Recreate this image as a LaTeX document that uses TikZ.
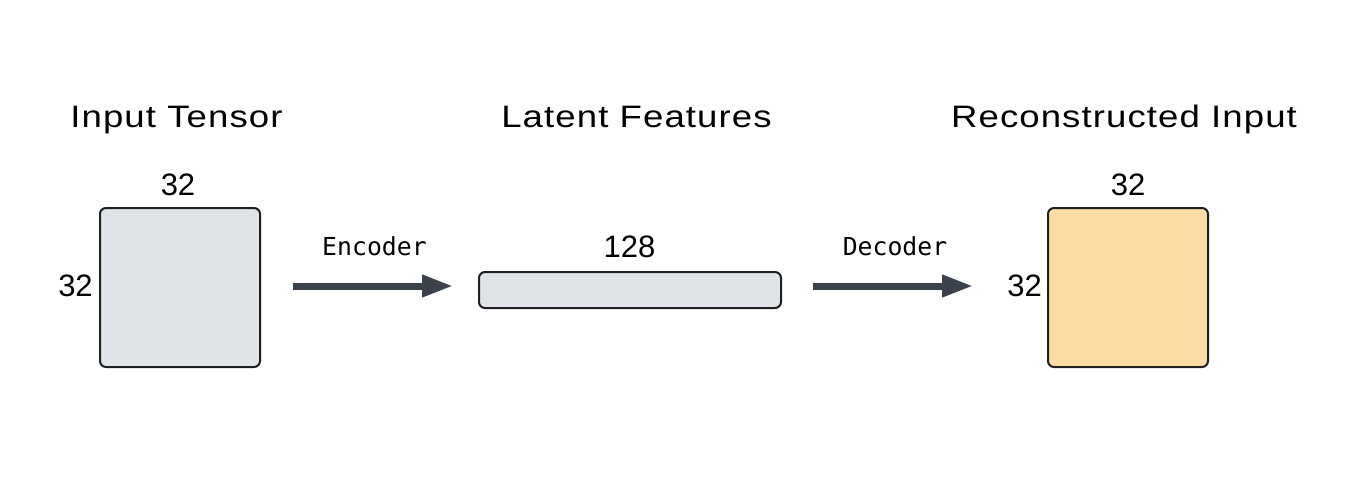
\documentclass[tikz,border=0pt]{standalone}
\usepackage{fontspec}
\setmainfont{Liberation Sans}
\newfontfamily\titlefont[FakeStretch=1.18,LetterSpace=3.5]{Liberation Sans}
\newfontfamily\codefont{DejaVu Sans Mono}
\usetikzlibrary{arrows.meta}
\definecolor{boxgrey}{HTML}{E0E3E8}
\definecolor{boxorange}{HTML}{FCDDA6}
\definecolor{edgecol}{HTML}{1F1F1F}
\definecolor{arrowcol}{HTML}{3B424C}
\tikzset{
  title/.style={anchor=base, inner sep=0pt, font=\titlefont\fontsize{15.5}{18}\selectfont},
  dimlabel/.style={anchor=base, inner sep=0pt, font=\fontsize{15.5}{18}\selectfont},
  oplabel/.style={anchor=base, inner sep=0pt, font=\codefont\fontsize{12.4}{14}\selectfont},
  tensor/.style={draw=edgecol, line width=1pt, rounded corners=3pt, inner sep=0pt},
  bigarrow/.style={draw=arrowcol, line width=3.5pt, -{Triangle[length=15.5pt,width=10.5pt]}},
}
\begin{document}
\begin{tikzpicture}[x=0.5pt,y=-0.5pt]
\useasboundingbox (0,0) rectangle (1350,477);
% titles
\node[title] (t1) at (176.5,127.5) {Input Tensor};
\node[title] (t2) at (636.5,127.5) {Latent Features};
\node[title] (t3) at (1124,127.5) {Reconstructed Input};
% tensors
\node[tensor, fill=boxgrey, minimum width=80pt, minimum height=79.5pt] (in) at (180,287.5) {};
\node[tensor, fill=boxgrey, minimum width=151pt, minimum height=18pt] (lat) at (630,290) {};
\node[tensor, fill=boxorange, minimum width=80pt, minimum height=79.5pt] (out) at (1128,287.5) {};
% dimension labels
\node[dimlabel] (inw) at (178,195) {32};
\node[dimlabel] (inh) at (75.5,296) {32};
\node[dimlabel] (latw) at (629.5,257) {128};
\node[dimlabel] (outw) at (1128,195) {32};
\node[dimlabel] (outh) at (1024.5,296) {32};
% operation labels
\node[oplabel] (enc) at (374.5,255) {Encoder};
\node[oplabel] (dec) at (895,255) {Decoder};
% arrows
\coordinate (e1) at (293,286);
\coordinate (e2) at (453,286);
\coordinate (d1) at (813,286);
\coordinate (d2) at (973,286);
\draw[bigarrow] (e1) -- (e2);
\draw[bigarrow] (d1) -- (d2);
\end{tikzpicture}
\end{document}
